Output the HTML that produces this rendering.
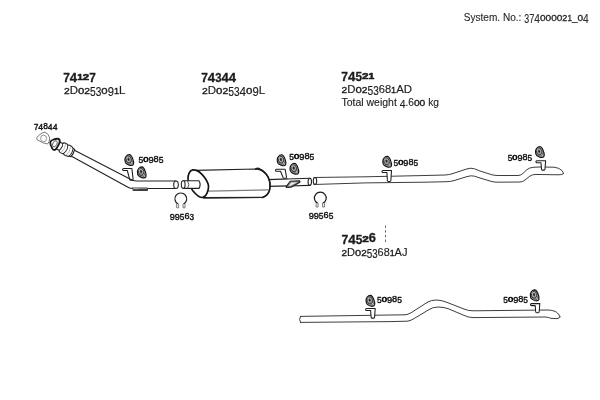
<!DOCTYPE html>
<html><head><meta charset="utf-8"><title>Exhaust system 374000021_04</title>
<style>
html,body{margin:0;padding:0;background:#fff;}
body{width:600px;height:400px;overflow:hidden;font-family:"Liberation Sans",sans-serif;}
svg{display:block;font-family:"Liberation Sans",sans-serif;}
</style></head><body>
<svg width="600" height="400" viewBox="0 0 600 400">
<rect width="600" height="400" fill="#fff"/>
<g style="will-change:transform;filter:grayscale(1)">
<text font-weight="normal" fill="#2a2a2a" stroke="#2a2a2a" stroke-linejoin="round"><tspan x="463.80" y="21.20" font-size="10.76" stroke-width="0.12" textLength="57.61" lengthAdjust="spacingAndGlyphs">System. No.:</tspan> <tspan x="524.20" y="23.10" font-size="12.06" stroke-width="0.12" textLength="4.93" lengthAdjust="spacingAndGlyphs">3</tspan><tspan x="529.13" y="23.10" font-size="12.06" stroke-width="0.12" textLength="5.15" lengthAdjust="spacingAndGlyphs">7</tspan><tspan x="534.28" y="23.10" font-size="12.06" stroke-width="0.12" textLength="5.71" lengthAdjust="spacingAndGlyphs">4</tspan><tspan x="539.99" y="21.20" font-size="8.72" stroke-width="0.32" textLength="5.60" lengthAdjust="spacingAndGlyphs">0</tspan><tspan x="545.59" y="21.20" font-size="8.72" stroke-width="0.32" textLength="5.60" lengthAdjust="spacingAndGlyphs">0</tspan><tspan x="551.18" y="21.20" font-size="8.72" stroke-width="0.32" textLength="5.60" lengthAdjust="spacingAndGlyphs">0</tspan><tspan x="556.78" y="21.20" font-size="8.72" stroke-width="0.32" textLength="5.60" lengthAdjust="spacingAndGlyphs">0</tspan><tspan x="562.38" y="21.20" font-size="8.72" stroke-width="0.32" textLength="5.04" lengthAdjust="spacingAndGlyphs">2</tspan><tspan x="567.42" y="21.20" font-size="8.72" stroke-width="0.32" textLength="4.48" lengthAdjust="spacingAndGlyphs">1</tspan><tspan x="571.90" y="21.20" font-size="10.76" stroke-width="0.12" textLength="5.60" lengthAdjust="spacingAndGlyphs">_</tspan><tspan x="577.49" y="21.20" font-size="8.72" stroke-width="0.32" textLength="5.60" lengthAdjust="spacingAndGlyphs">0</tspan><tspan x="583.09" y="23.10" font-size="12.06" stroke-width="0.12" textLength="5.71" lengthAdjust="spacingAndGlyphs">4</tspan></text>
<text font-weight="bold" fill="#1c1c1c" stroke="#1c1c1c" stroke-linejoin="round"><tspan x="63.30" y="81.80" font-size="12.65" stroke-width="0.30" textLength="6.58" lengthAdjust="spacingAndGlyphs">7</tspan><tspan x="69.88" y="81.80" font-size="12.65" stroke-width="0.30" textLength="7.29" lengthAdjust="spacingAndGlyphs">4</tspan><tspan x="77.17" y="79.60" font-size="9.16" stroke-width="0.55" textLength="5.72" lengthAdjust="spacingAndGlyphs">1</tspan><tspan x="82.89" y="79.60" font-size="9.16" stroke-width="0.55" textLength="6.43" lengthAdjust="spacingAndGlyphs">2</tspan><tspan x="89.32" y="81.80" font-size="12.65" stroke-width="0.30" textLength="6.58" lengthAdjust="spacingAndGlyphs">7</tspan></text>
<text font-weight="normal" fill="#1c1c1c" stroke="#1c1c1c" stroke-linejoin="round"><tspan x="64.00" y="94.10" font-size="8.87" stroke-width="0.35" textLength="5.72" lengthAdjust="spacingAndGlyphs">2</tspan><tspan x="69.72" y="94.10" font-size="10.76" stroke-width="0.15" textLength="8.25" lengthAdjust="spacingAndGlyphs">D</tspan><tspan x="77.98" y="94.10" font-size="8.87" stroke-width="0.35" textLength="6.36" lengthAdjust="spacingAndGlyphs">0</tspan><tspan x="84.33" y="94.10" font-size="8.87" stroke-width="0.35" textLength="5.72" lengthAdjust="spacingAndGlyphs">2</tspan><tspan x="90.05" y="96.00" font-size="12.21" stroke-width="0.15" textLength="5.72" lengthAdjust="spacingAndGlyphs">5</tspan><tspan x="95.78" y="96.00" font-size="12.21" stroke-width="0.15" textLength="5.59" lengthAdjust="spacingAndGlyphs">3</tspan><tspan x="101.37" y="94.10" font-size="8.87" stroke-width="0.35" textLength="6.36" lengthAdjust="spacingAndGlyphs">0</tspan><tspan x="107.73" y="96.00" font-size="12.21" stroke-width="0.15" textLength="6.23" lengthAdjust="spacingAndGlyphs">9</tspan><tspan x="113.96" y="94.10" font-size="8.87" stroke-width="0.35" textLength="5.09" lengthAdjust="spacingAndGlyphs">1</tspan><tspan x="119.04" y="94.10" font-size="10.76" stroke-width="0.15" textLength="6.36" lengthAdjust="spacingAndGlyphs">L</tspan></text>
<text font-weight="bold" fill="#1c1c1c" stroke="#1c1c1c" stroke-linejoin="round"><tspan x="201.30" y="81.80" font-size="12.35" stroke-width="0.30" textLength="6.59" lengthAdjust="spacingAndGlyphs">7</tspan><tspan x="207.89" y="81.80" font-size="12.35" stroke-width="0.30" textLength="7.30" lengthAdjust="spacingAndGlyphs">4</tspan><tspan x="215.19" y="81.80" font-size="12.35" stroke-width="0.30" textLength="6.30" lengthAdjust="spacingAndGlyphs">3</tspan><tspan x="221.49" y="81.80" font-size="12.35" stroke-width="0.30" textLength="7.30" lengthAdjust="spacingAndGlyphs">4</tspan><tspan x="228.80" y="81.80" font-size="12.35" stroke-width="0.30" textLength="7.30" lengthAdjust="spacingAndGlyphs">4</tspan></text>
<text font-weight="normal" fill="#1c1c1c" stroke="#1c1c1c" stroke-linejoin="round"><tspan x="202.00" y="94.10" font-size="8.87" stroke-width="0.35" textLength="5.76" lengthAdjust="spacingAndGlyphs">2</tspan><tspan x="207.76" y="94.10" font-size="10.76" stroke-width="0.15" textLength="8.31" lengthAdjust="spacingAndGlyphs">D</tspan><tspan x="216.07" y="94.10" font-size="8.87" stroke-width="0.35" textLength="6.40" lengthAdjust="spacingAndGlyphs">0</tspan><tspan x="222.46" y="94.10" font-size="8.87" stroke-width="0.35" textLength="5.76" lengthAdjust="spacingAndGlyphs">2</tspan><tspan x="228.22" y="96.00" font-size="12.21" stroke-width="0.15" textLength="5.76" lengthAdjust="spacingAndGlyphs">5</tspan><tspan x="233.98" y="96.00" font-size="12.21" stroke-width="0.15" textLength="5.63" lengthAdjust="spacingAndGlyphs">3</tspan><tspan x="239.61" y="96.00" font-size="12.21" stroke-width="0.15" textLength="6.53" lengthAdjust="spacingAndGlyphs">4</tspan><tspan x="246.13" y="94.10" font-size="8.87" stroke-width="0.35" textLength="6.40" lengthAdjust="spacingAndGlyphs">0</tspan><tspan x="252.53" y="96.00" font-size="12.21" stroke-width="0.15" textLength="6.27" lengthAdjust="spacingAndGlyphs">9</tspan><tspan x="258.80" y="94.10" font-size="10.76" stroke-width="0.15" textLength="6.40" lengthAdjust="spacingAndGlyphs">L</tspan></text>
<text font-weight="bold" fill="#1c1c1c" stroke="#1c1c1c" stroke-linejoin="round"><tspan x="341.30" y="80.70" font-size="12.65" stroke-width="0.30" textLength="6.69" lengthAdjust="spacingAndGlyphs">7</tspan><tspan x="347.99" y="80.70" font-size="12.65" stroke-width="0.30" textLength="7.41" lengthAdjust="spacingAndGlyphs">4</tspan><tspan x="355.40" y="80.70" font-size="12.65" stroke-width="0.30" textLength="6.54" lengthAdjust="spacingAndGlyphs">5</tspan><tspan x="361.94" y="78.50" font-size="8.87" stroke-width="0.55" textLength="6.54" lengthAdjust="spacingAndGlyphs">2</tspan><tspan x="368.49" y="78.50" font-size="8.87" stroke-width="0.55" textLength="5.81" lengthAdjust="spacingAndGlyphs">1</tspan></text>
<text font-weight="normal" fill="#1c1c1c" stroke="#1c1c1c" stroke-linejoin="round"><tspan x="341.50" y="93.00" font-size="8.87" stroke-width="0.35" textLength="5.70" lengthAdjust="spacingAndGlyphs">2</tspan><tspan x="347.20" y="93.00" font-size="10.76" stroke-width="0.15" textLength="8.22" lengthAdjust="spacingAndGlyphs">D</tspan><tspan x="355.42" y="93.00" font-size="8.87" stroke-width="0.35" textLength="6.33" lengthAdjust="spacingAndGlyphs">0</tspan><tspan x="361.75" y="93.00" font-size="8.87" stroke-width="0.35" textLength="5.70" lengthAdjust="spacingAndGlyphs">2</tspan><tspan x="367.45" y="94.90" font-size="12.21" stroke-width="0.15" textLength="5.70" lengthAdjust="spacingAndGlyphs">5</tspan><tspan x="373.14" y="94.90" font-size="12.21" stroke-width="0.15" textLength="5.57" lengthAdjust="spacingAndGlyphs">3</tspan><tspan x="378.71" y="93.00" font-size="10.76" stroke-width="0.15" textLength="12.41" lengthAdjust="spacingAndGlyphs">68</tspan><tspan x="391.12" y="93.00" font-size="8.87" stroke-width="0.35" textLength="5.06" lengthAdjust="spacingAndGlyphs">1</tspan><tspan x="396.19" y="93.00" font-size="10.76" stroke-width="0.15" textLength="15.81" lengthAdjust="spacingAndGlyphs">AD</tspan></text>
<text font-weight="normal" fill="#1c1c1c" stroke="#1c1c1c" stroke-linejoin="round"><tspan x="341.50" y="106.30" font-size="10.47" stroke-width="0.12" textLength="55.30" lengthAdjust="spacingAndGlyphs">Total weight</tspan> <tspan x="399.65" y="108.20" font-size="11.77" stroke-width="0.12" textLength="5.82" lengthAdjust="spacingAndGlyphs">4</tspan><tspan x="405.47" y="106.30" font-size="10.47" stroke-width="0.12" textLength="8.44" lengthAdjust="spacingAndGlyphs">.6</tspan><tspan x="413.91" y="106.30" font-size="8.43" stroke-width="0.32" textLength="5.70" lengthAdjust="spacingAndGlyphs">0</tspan><tspan x="419.61" y="106.30" font-size="8.43" stroke-width="0.32" textLength="5.70" lengthAdjust="spacingAndGlyphs">0</tspan><tspan x="425.32" y="106.30" font-size="10.47" stroke-width="0.12" textLength="13.68" lengthAdjust="spacingAndGlyphs"> kg</tspan></text>
<text font-weight="bold" fill="#1c1c1c" stroke="#1c1c1c" stroke-linejoin="round"><tspan x="341.50" y="244.10" font-size="12.35" stroke-width="0.30" textLength="6.72" lengthAdjust="spacingAndGlyphs">7</tspan><tspan x="348.22" y="244.10" font-size="12.35" stroke-width="0.30" textLength="7.46" lengthAdjust="spacingAndGlyphs">4</tspan><tspan x="355.68" y="244.10" font-size="12.35" stroke-width="0.30" textLength="6.58" lengthAdjust="spacingAndGlyphs">5</tspan><tspan x="362.26" y="241.90" font-size="8.72" stroke-width="0.55" textLength="6.58" lengthAdjust="spacingAndGlyphs">2</tspan><tspan x="368.84" y="241.90" font-size="12.06" stroke-width="0.30" textLength="7.16" lengthAdjust="spacingAndGlyphs">6</tspan></text>
<text font-weight="normal" fill="#1c1c1c" stroke="#1c1c1c" stroke-linejoin="round"><tspan x="341.50" y="256.40" font-size="8.87" stroke-width="0.35" textLength="5.53" lengthAdjust="spacingAndGlyphs">2</tspan><tspan x="347.03" y="256.40" font-size="10.76" stroke-width="0.15" textLength="7.98" lengthAdjust="spacingAndGlyphs">D</tspan><tspan x="355.01" y="256.40" font-size="8.87" stroke-width="0.35" textLength="6.15" lengthAdjust="spacingAndGlyphs">0</tspan><tspan x="361.16" y="256.40" font-size="8.87" stroke-width="0.35" textLength="5.53" lengthAdjust="spacingAndGlyphs">2</tspan><tspan x="366.69" y="258.30" font-size="12.21" stroke-width="0.15" textLength="5.53" lengthAdjust="spacingAndGlyphs">5</tspan><tspan x="372.23" y="258.30" font-size="12.21" stroke-width="0.15" textLength="5.41" lengthAdjust="spacingAndGlyphs">3</tspan><tspan x="377.64" y="256.40" font-size="10.76" stroke-width="0.15" textLength="12.05" lengthAdjust="spacingAndGlyphs">68</tspan><tspan x="389.68" y="256.40" font-size="8.87" stroke-width="0.35" textLength="4.92" lengthAdjust="spacingAndGlyphs">1</tspan><tspan x="394.60" y="256.40" font-size="10.76" stroke-width="0.15" textLength="12.90" lengthAdjust="spacingAndGlyphs">AJ</tspan></text>
<text font-weight="normal" fill="#111" stroke="#111" stroke-linejoin="round"><tspan x="34.00" y="129.50" font-size="9.01" stroke-width="0.40" textLength="4.36" lengthAdjust="spacingAndGlyphs">7</tspan><tspan x="38.36" y="129.50" font-size="9.01" stroke-width="0.40" textLength="4.83" lengthAdjust="spacingAndGlyphs">4</tspan><tspan x="43.19" y="128.50" font-size="9.16" stroke-width="0.40" textLength="4.64" lengthAdjust="spacingAndGlyphs">8</tspan><tspan x="47.83" y="129.50" font-size="9.01" stroke-width="0.40" textLength="4.83" lengthAdjust="spacingAndGlyphs">4</tspan><tspan x="52.67" y="129.50" font-size="9.01" stroke-width="0.40" textLength="4.83" lengthAdjust="spacingAndGlyphs">4</tspan></text>
<text font-weight="normal" fill="#111" stroke="#111" stroke-linejoin="round"><tspan x="138.50" y="162.50" font-size="9.01" stroke-width="0.40" textLength="4.73" lengthAdjust="spacingAndGlyphs">5</tspan><tspan x="143.23" y="161.50" font-size="7.12" stroke-width="0.60" textLength="5.25" lengthAdjust="spacingAndGlyphs">0</tspan><tspan x="148.48" y="162.50" font-size="9.01" stroke-width="0.40" textLength="5.15" lengthAdjust="spacingAndGlyphs">9</tspan><tspan x="153.63" y="161.50" font-size="9.16" stroke-width="0.40" textLength="5.15" lengthAdjust="spacingAndGlyphs">8</tspan><tspan x="158.77" y="162.50" font-size="9.01" stroke-width="0.40" textLength="4.73" lengthAdjust="spacingAndGlyphs">5</tspan></text>
<text font-weight="normal" fill="#111" stroke="#111" stroke-linejoin="round"><tspan x="289.30" y="159.80" font-size="9.01" stroke-width="0.40" textLength="4.73" lengthAdjust="spacingAndGlyphs">5</tspan><tspan x="294.03" y="158.80" font-size="7.12" stroke-width="0.60" textLength="5.25" lengthAdjust="spacingAndGlyphs">0</tspan><tspan x="299.28" y="159.80" font-size="9.01" stroke-width="0.40" textLength="5.15" lengthAdjust="spacingAndGlyphs">9</tspan><tspan x="304.43" y="158.80" font-size="9.16" stroke-width="0.40" textLength="5.15" lengthAdjust="spacingAndGlyphs">8</tspan><tspan x="309.57" y="159.80" font-size="9.01" stroke-width="0.40" textLength="4.73" lengthAdjust="spacingAndGlyphs">5</tspan></text>
<text font-weight="normal" fill="#111" stroke="#111" stroke-linejoin="round"><tspan x="393.50" y="165.60" font-size="9.01" stroke-width="0.40" textLength="4.65" lengthAdjust="spacingAndGlyphs">5</tspan><tspan x="398.15" y="164.60" font-size="7.12" stroke-width="0.60" textLength="5.17" lengthAdjust="spacingAndGlyphs">0</tspan><tspan x="403.32" y="165.60" font-size="9.01" stroke-width="0.40" textLength="5.06" lengthAdjust="spacingAndGlyphs">9</tspan><tspan x="408.38" y="164.60" font-size="9.16" stroke-width="0.40" textLength="5.06" lengthAdjust="spacingAndGlyphs">8</tspan><tspan x="413.45" y="165.60" font-size="9.01" stroke-width="0.40" textLength="4.65" lengthAdjust="spacingAndGlyphs">5</tspan></text>
<text font-weight="normal" fill="#111" stroke="#111" stroke-linejoin="round"><tspan x="507.70" y="160.60" font-size="9.01" stroke-width="0.40" textLength="4.61" lengthAdjust="spacingAndGlyphs">5</tspan><tspan x="512.31" y="159.60" font-size="7.12" stroke-width="0.60" textLength="5.13" lengthAdjust="spacingAndGlyphs">0</tspan><tspan x="517.44" y="160.60" font-size="9.01" stroke-width="0.40" textLength="5.02" lengthAdjust="spacingAndGlyphs">9</tspan><tspan x="522.46" y="159.60" font-size="9.16" stroke-width="0.40" textLength="5.02" lengthAdjust="spacingAndGlyphs">8</tspan><tspan x="527.49" y="160.60" font-size="9.01" stroke-width="0.40" textLength="4.61" lengthAdjust="spacingAndGlyphs">5</tspan></text>
<text font-weight="normal" fill="#111" stroke="#111" stroke-linejoin="round"><tspan x="377.00" y="303.10" font-size="9.01" stroke-width="0.40" textLength="4.73" lengthAdjust="spacingAndGlyphs">5</tspan><tspan x="381.73" y="302.10" font-size="7.12" stroke-width="0.60" textLength="5.25" lengthAdjust="spacingAndGlyphs">0</tspan><tspan x="386.98" y="303.10" font-size="9.01" stroke-width="0.40" textLength="5.15" lengthAdjust="spacingAndGlyphs">9</tspan><tspan x="392.13" y="302.10" font-size="9.16" stroke-width="0.40" textLength="5.15" lengthAdjust="spacingAndGlyphs">8</tspan><tspan x="397.27" y="303.10" font-size="9.01" stroke-width="0.40" textLength="4.73" lengthAdjust="spacingAndGlyphs">5</tspan></text>
<text font-weight="normal" fill="#111" stroke="#111" stroke-linejoin="round"><tspan x="503.30" y="303.10" font-size="9.01" stroke-width="0.40" textLength="4.67" lengthAdjust="spacingAndGlyphs">5</tspan><tspan x="507.97" y="302.10" font-size="7.12" stroke-width="0.60" textLength="5.19" lengthAdjust="spacingAndGlyphs">0</tspan><tspan x="513.16" y="303.10" font-size="9.01" stroke-width="0.40" textLength="5.09" lengthAdjust="spacingAndGlyphs">9</tspan><tspan x="518.24" y="302.10" font-size="9.16" stroke-width="0.40" textLength="5.09" lengthAdjust="spacingAndGlyphs">8</tspan><tspan x="523.33" y="303.10" font-size="9.01" stroke-width="0.40" textLength="4.67" lengthAdjust="spacingAndGlyphs">5</tspan></text>
<text font-weight="normal" fill="#111" stroke="#111" stroke-linejoin="round"><tspan x="169.80" y="219.50" font-size="9.01" stroke-width="0.40" textLength="5.02" lengthAdjust="spacingAndGlyphs">9</tspan><tspan x="174.82" y="219.50" font-size="9.01" stroke-width="0.40" textLength="5.02" lengthAdjust="spacingAndGlyphs">9</tspan><tspan x="179.85" y="219.50" font-size="9.01" stroke-width="0.40" textLength="4.61" lengthAdjust="spacingAndGlyphs">5</tspan><tspan x="184.46" y="218.50" font-size="9.16" stroke-width="0.40" textLength="5.02" lengthAdjust="spacingAndGlyphs">6</tspan><tspan x="189.49" y="219.50" font-size="9.01" stroke-width="0.40" textLength="4.51" lengthAdjust="spacingAndGlyphs">3</tspan></text>
<text font-weight="normal" fill="#111" stroke="#111" stroke-linejoin="round"><tspan x="308.70" y="218.90" font-size="9.01" stroke-width="0.40" textLength="5.09" lengthAdjust="spacingAndGlyphs">9</tspan><tspan x="313.79" y="218.90" font-size="9.01" stroke-width="0.40" textLength="5.09" lengthAdjust="spacingAndGlyphs">9</tspan><tspan x="318.87" y="218.90" font-size="9.01" stroke-width="0.40" textLength="4.67" lengthAdjust="spacingAndGlyphs">5</tspan><tspan x="323.54" y="217.90" font-size="9.16" stroke-width="0.40" textLength="5.09" lengthAdjust="spacingAndGlyphs">6</tspan><tspan x="328.63" y="218.90" font-size="9.01" stroke-width="0.40" textLength="4.67" lengthAdjust="spacingAndGlyphs">5</tspan></text>
<path d="M385.5 225.4V242.2" stroke="#6a6a6a" stroke-width="1" stroke-dasharray="2.5 2.2" fill="none"/>
<path d="M45.3,132.3 Q48.5,133.5 49.6,137.8 Q50,141.5 47.6,144 Q43,143.6 37,139.6 Q35.8,138 38.5,135.6 Q42.5,131.8 45.3,132.3Z" fill="none" stroke="#777" stroke-width="1"/>
<ellipse cx="43.6" cy="138.4" rx="3" ry="3.3" fill="none" stroke="#888" stroke-width="0.9"/>
<path d="M123.60,168.50 L131.90,168.50 L133.10,179.10 Q133.00,180.10 132.10,180.10 L130.50,180.10 Q129.70,180.10 129.60,179.10 L127.30,170.50 L123.60,170.50 Q122.60,170.50 122.60,169.50 Q122.60,168.50 123.60,168.50 Z" fill="#fff" stroke="#1c1c1c" stroke-width="1.05" stroke-linejoin="round"/>
<path d="M73,149.5 L130,179 Q132.6,181 136.5,181 L176,181 M66.5,153.5 L128,187.2 Q130,188.5 133.5,188.5 L176,188.5" fill="none" stroke="#222" stroke-width="1.1" stroke-linecap="round" stroke-linejoin="round"/>
<ellipse cx="176" cy="184.75" rx="2.3" ry="3.75" fill="#fff" stroke="#222" stroke-width="1.1" stroke-linecap="round" stroke-linejoin="round"/>
<g transform="translate(55.6,144.1) rotate(27.8)"><path d="M2,-3.8 L6,-3.8 Q6.4,-5.4 8.6,-5.4 Q11,-5.4 11.4,-4.6 Q11.8,-5.6 14,-5.6 Q17,-5.4 17.4,-4.4 L19.4,-4.2 Q20.6,0 19.4,4.2 L17.4,4.4 Q17,5.4 14,5.6 Q11.8,5.6 11.4,4.6 Q11,5.4 8.6,5.4 Q6.4,5.4 6,3.8 L2,3.8Z" fill="#fff" stroke="#222" stroke-width="1.1" stroke-linecap="round" stroke-linejoin="round"/><path d="M6,-3.8 Q8,0 6,3.8 M11.4,-4.6 Q13.8,0 11.4,4.6 M17.4,-4.4 Q19.4,0 17.4,4.4" fill="none" stroke="#222" stroke-width="0.9"/><path d="M8.8,-5 Q10.8,0 8.8,5 M14.4,-5.2 Q16.6,0 14.4,5.2" fill="none" stroke="#9a9a9a" stroke-width="0.6"/><path d="M0.4,-6 Q2.8,-5.6 3,-2 Q3.2,2.4 2.4,5 Q1.6,6.6 -0.6,5.6 Q-4.6,3.4 -5.6,0.8 Q-6,-1 -4.4,-2.6 Q-1.8,-5.6 0.4,-6Z" fill="#fff" stroke="#161616" stroke-width="1.8" stroke-linejoin="round"/><ellipse cx="-0.8" cy="0" rx="2" ry="3.3" fill="#fff" stroke="#444" stroke-width="0.8"/></g>
<g transform="translate(129.2,160.0) scale(0.93)"><path d="M0.1,-5.9 C-2.7,-5.8 -4.7,-2.6 -4.6,-0.3 C-4.6,1.6 -4.3,3 -3.3,3.7 C-1.9,4.6 -0.7,5.8 1,5.9 C2.5,6 4.3,5.6 4.6,4.4 C4.9,3 4.7,1.2 4.1,-0.3 C3.5,-2.2 2.5,-5.8 0.1,-5.9 Z" fill="#a2a2a2" stroke="#141414" stroke-width="1.25" stroke-linejoin="round"/><ellipse cx="-0.4" cy="-0.6" rx="2.9" ry="3.8" fill="#6a6a6a" stroke="#262626" stroke-width="0.7" transform="rotate(-12)"/><ellipse cx="-0.5" cy="-0.8" rx="1.8" ry="2.5" fill="none" stroke="#e6e6e6" stroke-width="0.6" transform="rotate(-12)"/><ellipse cx="-0.5" cy="-0.8" rx="0.9" ry="1.3" fill="#1e1e1e" transform="rotate(-12)"/><path d="M1,2.8 L2.6,5.2 M2.4,1 L3.9,4.2 M-0.4,3.8 L1,5.4 M-3.8,-1 L-2.7,-4 M-4,1.6 L-3.4,-1.6" stroke="#2c2c2c" stroke-width="0.5" fill="none"/><path d="M1.8,1.8 L3.3,4.8 M-3.1,-1.4 L-2,-4.4" stroke="#ececec" stroke-width="0.5" fill="none"/></g>
<g transform="translate(141.7,172.4) scale(0.93)"><path d="M0.1,-5.9 C-2.7,-5.8 -4.7,-2.6 -4.6,-0.3 C-4.6,1.6 -4.3,3 -3.3,3.7 C-1.9,4.6 -0.7,5.8 1,5.9 C2.5,6 4.3,5.6 4.6,4.4 C4.9,3 4.7,1.2 4.1,-0.3 C3.5,-2.2 2.5,-5.8 0.1,-5.9 Z" fill="#a2a2a2" stroke="#141414" stroke-width="1.25" stroke-linejoin="round"/><ellipse cx="-0.4" cy="-0.6" rx="2.9" ry="3.8" fill="#6a6a6a" stroke="#262626" stroke-width="0.7" transform="rotate(-12)"/><ellipse cx="-0.5" cy="-0.8" rx="1.8" ry="2.5" fill="none" stroke="#e6e6e6" stroke-width="0.6" transform="rotate(-12)"/><ellipse cx="-0.5" cy="-0.8" rx="0.9" ry="1.3" fill="#1e1e1e" transform="rotate(-12)"/><path d="M1,2.8 L2.6,5.2 M2.4,1 L3.9,4.2 M-0.4,3.8 L1,5.4 M-3.8,-1 L-2.7,-4 M-4,1.6 L-3.4,-1.6" stroke="#2c2c2c" stroke-width="0.5" fill="none"/><path d="M1.8,1.8 L3.3,4.8 M-3.1,-1.4 L-2,-4.4" stroke="#ececec" stroke-width="0.5" fill="none"/></g>
<path d="M132,187.9 L147.4,187.9 Q148,189 147.4,190.1 L133.6,190.1 Z" fill="#cfcfcf" stroke="#222" stroke-width="0.7" stroke-linejoin="round"/>
<path d="M139,188.6 L147,188.6 L147,189.6 L139,189.6Z" fill="#555"/>
<path d="M133,190.1 L147.4,190.1" stroke="#1a1a1a" stroke-width="1.1" stroke-linecap="round"/>
<path d="M178.20,204.20 a5.90,5.90 0 1 1 5.20,0" fill="none" stroke="#1c1c1c" stroke-width="1.2" stroke-linecap="round"/><path d="M178.60,204.20 v3.6 h-2 v-3.8 M183.00,204.20 v3.6 h2 v-3.8" fill="#eee" stroke="#666" stroke-width="0.8" stroke-linejoin="round"/>
<path d="M317.70,203.40 a5.90,5.90 0 1 1 5.20,0" fill="none" stroke="#1c1c1c" stroke-width="1.2" stroke-linecap="round"/><path d="M318.10,203.40 v3.6 h-2 v-3.8 M322.50,203.40 v3.6 h2 v-3.8" fill="#eee" stroke="#666" stroke-width="0.8" stroke-linejoin="round"/>
<path d="M268,179.6 L310,178.2 M268,186.4 L310,185.4" fill="none" stroke="#222" stroke-width="1.1" stroke-linecap="round" stroke-linejoin="round"/>
<ellipse cx="309.8" cy="181.8" rx="1.7" ry="3.6" fill="#fff" stroke="#222" stroke-width="1.1" stroke-linecap="round" stroke-linejoin="round"/>
<path d="M196,170.4 L256,169 Q263,169.6 268,176.9 Q271,183 269.7,189.5 Q268.4,195.4 262.5,197.5 L203,197.9" fill="#fff" stroke="#222" stroke-width="1.1" stroke-linejoin="round"/>
<path d="M255.6,168.9 Q258,167.9 259.6,169 Q264.5,170.6 268,176.9 Q271,183 269.7,189.5 Q268.4,195.4 262.5,197.5" fill="none" stroke="#1a1a1a" stroke-width="1.6" stroke-linecap="round"/>
<path d="M208.5,191.2 L268.8,189.8" fill="none" stroke="#7c7c7c" stroke-width="1.3"/>
<path d="M204,197.8 L262,197.4" fill="none" stroke="#222" stroke-width="1.4" stroke-linecap="round"/>
<path d="M193,169.9 C196,169.6 201,172.5 205,178 C207,181 208.3,183.5 208.5,186 C208.8,190 206.5,197 202,197.5 C199.5,197.7 196,194.5 193,191 C190.5,187.5 188.3,182.5 188,179 C187.8,175 189.5,170.3 193,169.9Z" fill="#fff" stroke="#111" stroke-width="1.65" stroke-linejoin="round"/>
<path d="M183.2,180.8 L199,180.8 Q201.2,184.6 199,188.4 L183.2,188.4Z" fill="#fff" stroke="#222" stroke-width="1.1" stroke-linecap="round" stroke-linejoin="round"/>
<ellipse cx="183.2" cy="184.6" rx="1.9" ry="3.8" fill="#fff" stroke="#222" stroke-width="1.1" stroke-linecap="round" stroke-linejoin="round"/>
<path d="M187.6,180.8 q2.4,3.8 0,7.6" fill="none" stroke="#333" stroke-width="0.8"/>
<path d="M276.50,169.20 L285.10,169.20 L286.50,177.20 Q286.40,178.20 285.50,178.20 L283.90,178.20 Q283.10,178.20 283.00,177.20 L280.50,171.20 L276.50,171.20 Q275.50,171.20 275.50,170.20 Q275.50,169.20 276.50,169.20 Z" fill="#fff" stroke="#1c1c1c" stroke-width="1.05" stroke-linejoin="round"/>
<path d="M290.2,181.2 L299.6,180.8 Q300.4,181.6 299.4,182.6 L291,187.2 L286.4,187.4 Q285.6,186.6 287,185.6 Z" fill="#888" stroke="#1c1c1c" stroke-width="1.1" stroke-linejoin="round"/>
<path d="M291.2,182.6 L297.4,182.3 L290.4,185.8 L288.6,185.9Z" fill="#e8e8e8" stroke="none"/>
<g transform="translate(281.5,160.2) scale(0.93)"><path d="M0.1,-5.9 C-2.7,-5.8 -4.7,-2.6 -4.6,-0.3 C-4.6,1.6 -4.3,3 -3.3,3.7 C-1.9,4.6 -0.7,5.8 1,5.9 C2.5,6 4.3,5.6 4.6,4.4 C4.9,3 4.7,1.2 4.1,-0.3 C3.5,-2.2 2.5,-5.8 0.1,-5.9 Z" fill="#a2a2a2" stroke="#141414" stroke-width="1.25" stroke-linejoin="round"/><ellipse cx="-0.4" cy="-0.6" rx="2.9" ry="3.8" fill="#6a6a6a" stroke="#262626" stroke-width="0.7" transform="rotate(-12)"/><ellipse cx="-0.5" cy="-0.8" rx="1.8" ry="2.5" fill="none" stroke="#e6e6e6" stroke-width="0.6" transform="rotate(-12)"/><ellipse cx="-0.5" cy="-0.8" rx="0.9" ry="1.3" fill="#1e1e1e" transform="rotate(-12)"/><path d="M1,2.8 L2.6,5.2 M2.4,1 L3.9,4.2 M-0.4,3.8 L1,5.4 M-3.8,-1 L-2.7,-4 M-4,1.6 L-3.4,-1.6" stroke="#2c2c2c" stroke-width="0.5" fill="none"/><path d="M1.8,1.8 L3.3,4.8 M-3.1,-1.4 L-2,-4.4" stroke="#ececec" stroke-width="0.5" fill="none"/></g>
<g transform="translate(294.3,168.7) scale(0.93)"><path d="M0.1,-5.9 C-2.7,-5.8 -4.7,-2.6 -4.6,-0.3 C-4.6,1.6 -4.3,3 -3.3,3.7 C-1.9,4.6 -0.7,5.8 1,5.9 C2.5,6 4.3,5.6 4.6,4.4 C4.9,3 4.7,1.2 4.1,-0.3 C3.5,-2.2 2.5,-5.8 0.1,-5.9 Z" fill="#a2a2a2" stroke="#141414" stroke-width="1.25" stroke-linejoin="round"/><ellipse cx="-0.4" cy="-0.6" rx="2.9" ry="3.8" fill="#6a6a6a" stroke="#262626" stroke-width="0.7" transform="rotate(-12)"/><ellipse cx="-0.5" cy="-0.8" rx="1.8" ry="2.5" fill="none" stroke="#e6e6e6" stroke-width="0.6" transform="rotate(-12)"/><ellipse cx="-0.5" cy="-0.8" rx="0.9" ry="1.3" fill="#1e1e1e" transform="rotate(-12)"/><path d="M1,2.8 L2.6,5.2 M2.4,1 L3.9,4.2 M-0.4,3.8 L1,5.4 M-3.8,-1 L-2.7,-4 M-4,1.6 L-3.4,-1.6" stroke="#2c2c2c" stroke-width="0.5" fill="none"/><path d="M1.8,1.8 L3.3,4.8 M-3.1,-1.4 L-2,-4.4" stroke="#ececec" stroke-width="0.5" fill="none"/></g>
<path d="M314,177.5 L365,176.8 L425,175.5 L445,175 Q449,174.8 452,173.8 L467,168.9 Q471,167.6 474.5,168.8 L480,171 L492,174.8 Q495,175.5 498,175.5 L518,175.5 Q521,175.4 523,173.4 L527,169.6 Q529.5,167.6 533,167.3 L540,167 L554,167.2 Q559.5,167.8 562,170.6 Q564,172.9 563.3,173.9" fill="none" stroke="#333" stroke-width="0.95" stroke-linecap="round" stroke-linejoin="round"/>
<path d="M314,184.5 L365,182.9 L425,182.2 L447,181.7 Q451,181.5 454,180.6 L467,176.6 Q471,175.2 474.5,176.2 L480,178 L492,181.6 Q495,182.2 498,182.2 L520,182 Q523,181.8 525,180 L530,176 Q532,174.6 535,174.5 L540,174.5 L558,174.8 Q562.6,174.9 563.3,173.9" fill="none" stroke="#333" stroke-width="0.95" stroke-linecap="round" stroke-linejoin="round"/>
<ellipse cx="315" cy="181" rx="1.7" ry="3.5" fill="#fff" stroke="#222" stroke-width="1.1" stroke-linecap="round" stroke-linejoin="round"/>
<path d="M383.00,170.50 L391.50,170.50 L390.90,180.50 Q390.80,181.50 389.90,181.50 L388.30,181.50 Q387.50,181.50 387.40,180.50 L386.90,172.50 L383.00,172.50 Q382.00,172.50 382.00,171.50 Q382.00,170.50 383.00,170.50 Z" fill="#fff" stroke="#1c1c1c" stroke-width="1.05" stroke-linejoin="round"/>
<g transform="translate(387.1,161.7) scale(0.93)"><path d="M0.1,-5.9 C-2.7,-5.8 -4.7,-2.6 -4.6,-0.3 C-4.6,1.6 -4.3,3 -3.3,3.7 C-1.9,4.6 -0.7,5.8 1,5.9 C2.5,6 4.3,5.6 4.6,4.4 C4.9,3 4.7,1.2 4.1,-0.3 C3.5,-2.2 2.5,-5.8 0.1,-5.9 Z" fill="#a2a2a2" stroke="#141414" stroke-width="1.25" stroke-linejoin="round"/><ellipse cx="-0.4" cy="-0.6" rx="2.9" ry="3.8" fill="#6a6a6a" stroke="#262626" stroke-width="0.7" transform="rotate(-12)"/><ellipse cx="-0.5" cy="-0.8" rx="1.8" ry="2.5" fill="none" stroke="#e6e6e6" stroke-width="0.6" transform="rotate(-12)"/><ellipse cx="-0.5" cy="-0.8" rx="0.9" ry="1.3" fill="#1e1e1e" transform="rotate(-12)"/><path d="M1,2.8 L2.6,5.2 M2.4,1 L3.9,4.2 M-0.4,3.8 L1,5.4 M-3.8,-1 L-2.7,-4 M-4,1.6 L-3.4,-1.6" stroke="#2c2c2c" stroke-width="0.5" fill="none"/><path d="M1.8,1.8 L3.3,4.8 M-3.1,-1.4 L-2,-4.4" stroke="#ececec" stroke-width="0.5" fill="none"/></g>
<path d="M536.90,160.70 L545.60,160.70 L545.00,169.10 Q544.90,170.10 544.00,170.10 L542.40,170.10 Q541.60,170.10 541.50,169.10 L541.00,162.70 L536.90,162.70 Q535.90,162.70 535.90,161.70 Q535.90,160.70 536.90,160.70 Z" fill="#fff" stroke="#1c1c1c" stroke-width="1.05" stroke-linejoin="round"/>
<g transform="translate(539.8,152.0) scale(0.93)"><path d="M0.1,-5.9 C-2.7,-5.8 -4.7,-2.6 -4.6,-0.3 C-4.6,1.6 -4.3,3 -3.3,3.7 C-1.9,4.6 -0.7,5.8 1,5.9 C2.5,6 4.3,5.6 4.6,4.4 C4.9,3 4.7,1.2 4.1,-0.3 C3.5,-2.2 2.5,-5.8 0.1,-5.9 Z" fill="#a2a2a2" stroke="#141414" stroke-width="1.25" stroke-linejoin="round"/><ellipse cx="-0.4" cy="-0.6" rx="2.9" ry="3.8" fill="#6a6a6a" stroke="#262626" stroke-width="0.7" transform="rotate(-12)"/><ellipse cx="-0.5" cy="-0.8" rx="1.8" ry="2.5" fill="none" stroke="#e6e6e6" stroke-width="0.6" transform="rotate(-12)"/><ellipse cx="-0.5" cy="-0.8" rx="0.9" ry="1.3" fill="#1e1e1e" transform="rotate(-12)"/><path d="M1,2.8 L2.6,5.2 M2.4,1 L3.9,4.2 M-0.4,3.8 L1,5.4 M-3.8,-1 L-2.7,-4 M-4,1.6 L-3.4,-1.6" stroke="#2c2c2c" stroke-width="0.5" fill="none"/><path d="M1.8,1.8 L3.3,4.8 M-3.1,-1.4 L-2,-4.4" stroke="#ececec" stroke-width="0.5" fill="none"/></g>
<path d="M300.5,316.4 L390,315 L405,314.8 Q408,314.6 411,312.8 L427,302.5 Q431,300 436,300 Q441,300 446,302 L464,309 Q468,310.8 473,310.8 L548,310 Q555,310.4 557.5,313 Q559.5,315 560,316.8" fill="none" stroke="#333" stroke-width="0.95" stroke-linecap="round" stroke-linejoin="round"/>
<path d="M300.5,322.4 L390,321.6 L407,321.2 Q410,321 413,319.2 L429,309.6 Q433,307 438,307 Q443,307 448,308.6 L464,315.4 Q468,317.4 473,317.6 L545,317 Q549,317.2 551,318.4 L557,318.6 Q559.6,318.4 560,316.8" fill="none" stroke="#333" stroke-width="0.95" stroke-linecap="round" stroke-linejoin="round"/>
<path d="M300.5,316.4 q-2,3 0,6" fill="none" stroke="#333" stroke-width="0.95" stroke-linecap="round" stroke-linejoin="round"/>
<path d="M366.60,308.40 L375.20,308.40 L374.60,317.10 Q374.50,318.10 373.60,318.10 L372.00,318.10 Q371.20,318.10 371.10,317.10 L370.60,310.40 L366.60,310.40 Q365.60,310.40 365.60,309.40 Q365.60,308.40 366.60,308.40 Z" fill="#fff" stroke="#1c1c1c" stroke-width="1.05" stroke-linejoin="round"/>
<g transform="translate(370.3,300.8) scale(0.93)"><path d="M0.1,-5.9 C-2.7,-5.8 -4.7,-2.6 -4.6,-0.3 C-4.6,1.6 -4.3,3 -3.3,3.7 C-1.9,4.6 -0.7,5.8 1,5.9 C2.5,6 4.3,5.6 4.6,4.4 C4.9,3 4.7,1.2 4.1,-0.3 C3.5,-2.2 2.5,-5.8 0.1,-5.9 Z" fill="#a2a2a2" stroke="#141414" stroke-width="1.25" stroke-linejoin="round"/><ellipse cx="-0.4" cy="-0.6" rx="2.9" ry="3.8" fill="#6a6a6a" stroke="#262626" stroke-width="0.7" transform="rotate(-12)"/><ellipse cx="-0.5" cy="-0.8" rx="1.8" ry="2.5" fill="none" stroke="#e6e6e6" stroke-width="0.6" transform="rotate(-12)"/><ellipse cx="-0.5" cy="-0.8" rx="0.9" ry="1.3" fill="#1e1e1e" transform="rotate(-12)"/><path d="M1,2.8 L2.6,5.2 M2.4,1 L3.9,4.2 M-0.4,3.8 L1,5.4 M-3.8,-1 L-2.7,-4 M-4,1.6 L-3.4,-1.6" stroke="#2c2c2c" stroke-width="0.5" fill="none"/><path d="M1.8,1.8 L3.3,4.8 M-3.1,-1.4 L-2,-4.4" stroke="#ececec" stroke-width="0.5" fill="none"/></g>
<path d="M531.50,303.60 L539.80,303.60 L539.20,311.80 Q539.10,312.80 538.20,312.80 L536.60,312.80 Q535.80,312.80 535.70,311.80 L535.20,305.60 L531.50,305.60 Q530.50,305.60 530.50,304.60 Q530.50,303.60 531.50,303.60 Z" fill="#fff" stroke="#1c1c1c" stroke-width="1.05" stroke-linejoin="round"/>
<g transform="translate(534.6,295.3) scale(0.93)"><path d="M0.1,-5.9 C-2.7,-5.8 -4.7,-2.6 -4.6,-0.3 C-4.6,1.6 -4.3,3 -3.3,3.7 C-1.9,4.6 -0.7,5.8 1,5.9 C2.5,6 4.3,5.6 4.6,4.4 C4.9,3 4.7,1.2 4.1,-0.3 C3.5,-2.2 2.5,-5.8 0.1,-5.9 Z" fill="#a2a2a2" stroke="#141414" stroke-width="1.25" stroke-linejoin="round"/><ellipse cx="-0.4" cy="-0.6" rx="2.9" ry="3.8" fill="#6a6a6a" stroke="#262626" stroke-width="0.7" transform="rotate(-12)"/><ellipse cx="-0.5" cy="-0.8" rx="1.8" ry="2.5" fill="none" stroke="#e6e6e6" stroke-width="0.6" transform="rotate(-12)"/><ellipse cx="-0.5" cy="-0.8" rx="0.9" ry="1.3" fill="#1e1e1e" transform="rotate(-12)"/><path d="M1,2.8 L2.6,5.2 M2.4,1 L3.9,4.2 M-0.4,3.8 L1,5.4 M-3.8,-1 L-2.7,-4 M-4,1.6 L-3.4,-1.6" stroke="#2c2c2c" stroke-width="0.5" fill="none"/><path d="M1.8,1.8 L3.3,4.8 M-3.1,-1.4 L-2,-4.4" stroke="#ececec" stroke-width="0.5" fill="none"/></g>
</g>
</svg>
</body></html>
